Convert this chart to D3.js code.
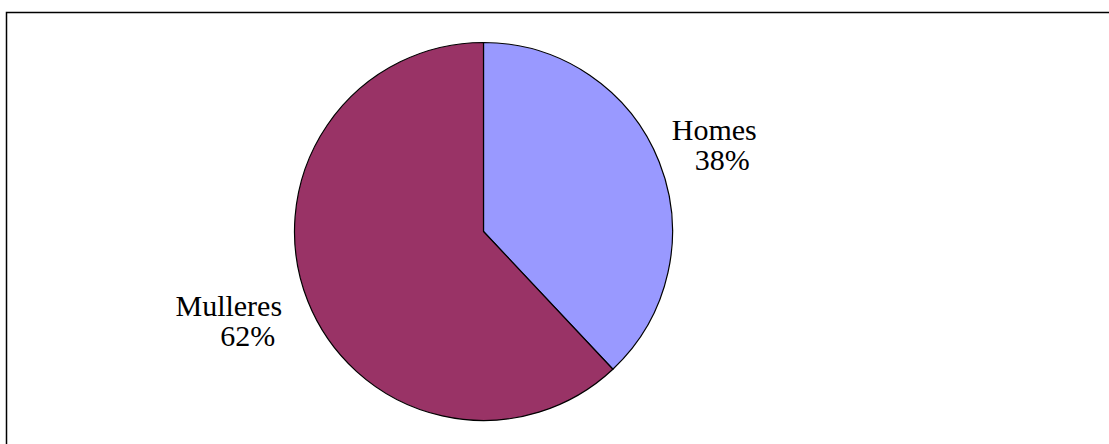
<!DOCTYPE html>
<html>
<head>
<meta charset="utf-8">
<script src="https://cdn.jsdelivr.net/npm/d3@7"></script>
<style>
  html, body { margin: 0; padding: 0; background: #fff; }
  svg { display: block; }
</style>
</head>
<body>
<svg width="1109" height="444"></svg>
<script>
// datos do gráfico
const categorias = ['Homes', 'Mulleres'];
const valores = [38, 62];
const cores = ['#9999FF', '#993366'];

const svg = d3.select('svg');
const width = +svg.attr('width');

// marco do gráfico (só se ven a parte superior e esquerda)
svg.append('rect')
    .attr('x', 6.5)
    .attr('y', 12.5)
    .attr('width', width + 20)
    .attr('height', 500)
    .attr('fill', 'none')
    .attr('stroke', '#000')
    .attr('stroke-width', 1.5);

const cx = 483.5, cy = 231.5, radio = 189;

const pie = d3.pie().sort(null).value(d => d.valor);
const arco = d3.arc().innerRadius(0).outerRadius(radio);

const datos = categorias.map((c, i) => ({ nome: c, valor: valores[i], cor: cores[i] }));

const g = svg.append('g').attr('transform', `translate(${cx},${cy})`);

g.selectAll('path')
    .data(pie(datos))
    .enter()
    .append('path')
    .attr('d', arco)
    .attr('fill', d => d.data.cor)
    .attr('stroke', '#000')
    .attr('stroke-width', 1.2)
    .attr('stroke-linejoin', 'round');

// etiquetas: desprazamento desde o bordo exterior
const arcoFora = d3.arc().innerRadius(radio).outerRadius(radio);
const desprazamentos = [
    { dx: 55, dy: -22, dx2: 63 },
    { dx: -79, dy: 15, dx2: -60 }
];

const etiquetas = g.selectAll('g.etiqueta')
    .data(pie(datos))
    .enter()
    .append('g')
    .attr('class', 'etiqueta')
    .attr('transform', (d, i) => {
        const [x, y] = arcoFora.centroid(d);
        return `translate(${x},${y + desprazamentos[i].dy})`;
    })
    .style('font-family', '"Liberation Serif", "DejaVu Serif", serif')
    .style('font-size', '30px')
    .attr('fill', '#000');

etiquetas.append('text')
    .attr('x', (d, i) => desprazamentos[i].dx)
    .attr('text-anchor', 'middle')
    .text(d => d.data.nome);

etiquetas.append('text')
    .attr('x', (d, i) => desprazamentos[i].dx2)
    .attr('y', 30)
    .attr('text-anchor', 'middle')
    .text(d => `${d.data.valor}%`);
</script>
</body>
</html>
